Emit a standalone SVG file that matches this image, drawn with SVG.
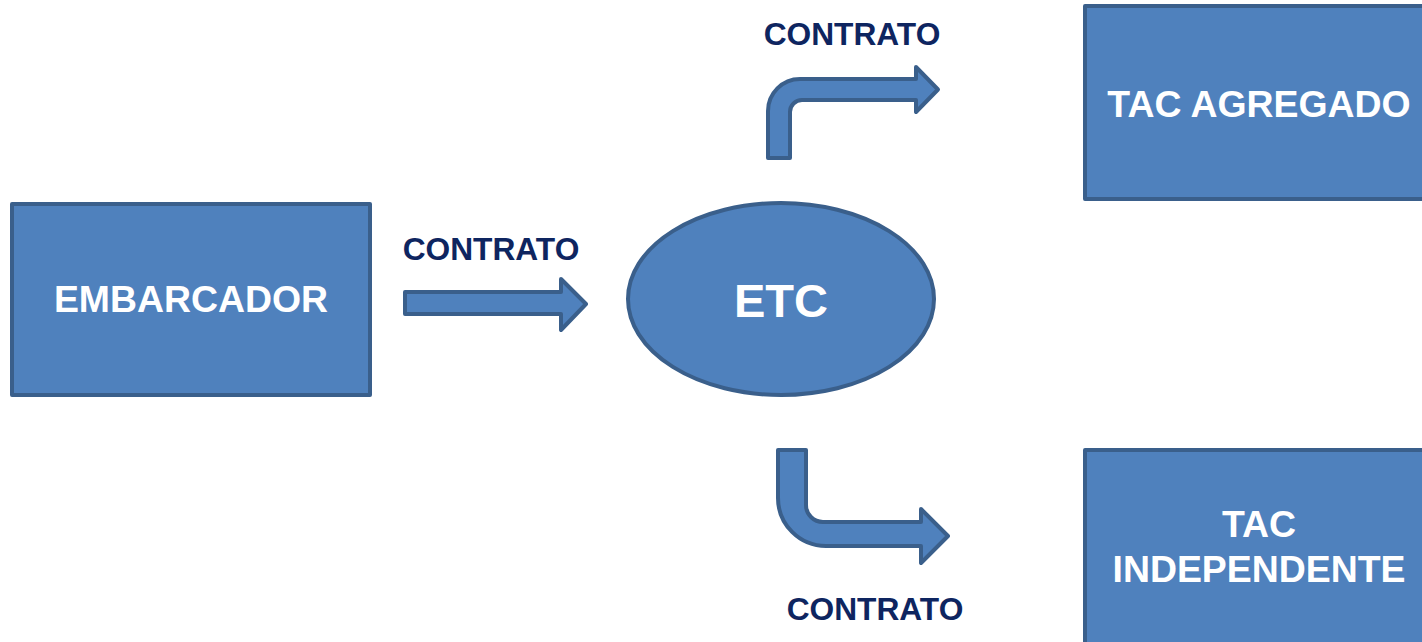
<svg xmlns="http://www.w3.org/2000/svg" width="1422" height="642" viewBox="0 0 1422 642">
  <style>
    .shape { fill: #4F81BD; stroke: #3A5F8B; stroke-width: 4; stroke-linejoin: round; }
    .node-text { font-family: "Liberation Sans", Arial, sans-serif; font-weight: bold; fill: #FFFFFF; text-anchor: middle; }
    .label { font-family: "Liberation Sans", Arial, sans-serif; font-weight: bold; fill: #0E2560; text-anchor: middle; font-size: 31.7px; }
  </style>
  <rect width="1422" height="642" fill="#FFFFFF"/>
  <g id="embarcador">
    <rect class="shape" x="12" y="204" width="358" height="191"/>
    <text class="node-text" x="191" y="312" font-size="37.4">EMBARCADOR</text>
  </g>
  <g id="etc">
    <ellipse class="shape" cx="781" cy="299" rx="153" ry="96"/>
    <text class="node-text" x="781" y="317" font-size="47">ETC</text>
  </g>
  <g id="tac-agregado">
    <rect class="shape" x="1085" y="6" width="345" height="193"/>
    <text class="node-text" x="1259" y="117" font-size="37.4">TAC AGREGADO</text>
  </g>
  <g id="tac-independente">
    <rect class="shape" x="1085" y="450" width="345" height="200"/>
    <text class="node-text" x="1259" y="537" font-size="37.4">TAC</text>
    <text class="node-text" x="1259" y="582" font-size="37.4">INDEPENDENTE</text>
  </g>
  <g id="connectors">
    <path class="shape" d="M405,292 H561 V279 L586,304 L561,330 V314 H405 Z"/>
    <path class="shape" d="M768,158 V111 A32,32 0 0 1 800,79 H916 V67 L938,89.5 L916,112 V100 H802 A12,12 0 0 0 790,112 V158 Z"/>
    <path class="shape" d="M778,450 H806 V505 A17,17 0 0 0 823,522 H921 V509 L948,536 L921,563 V546 H826 A48,48 0 0 1 778,498 Z"/>
    <text class="label" x="852" y="45">CONTRATO</text>
    <text class="label" x="491" y="260">CONTRATO</text>
    <text class="label" x="875" y="620">CONTRATO</text>
  </g>
</svg>
